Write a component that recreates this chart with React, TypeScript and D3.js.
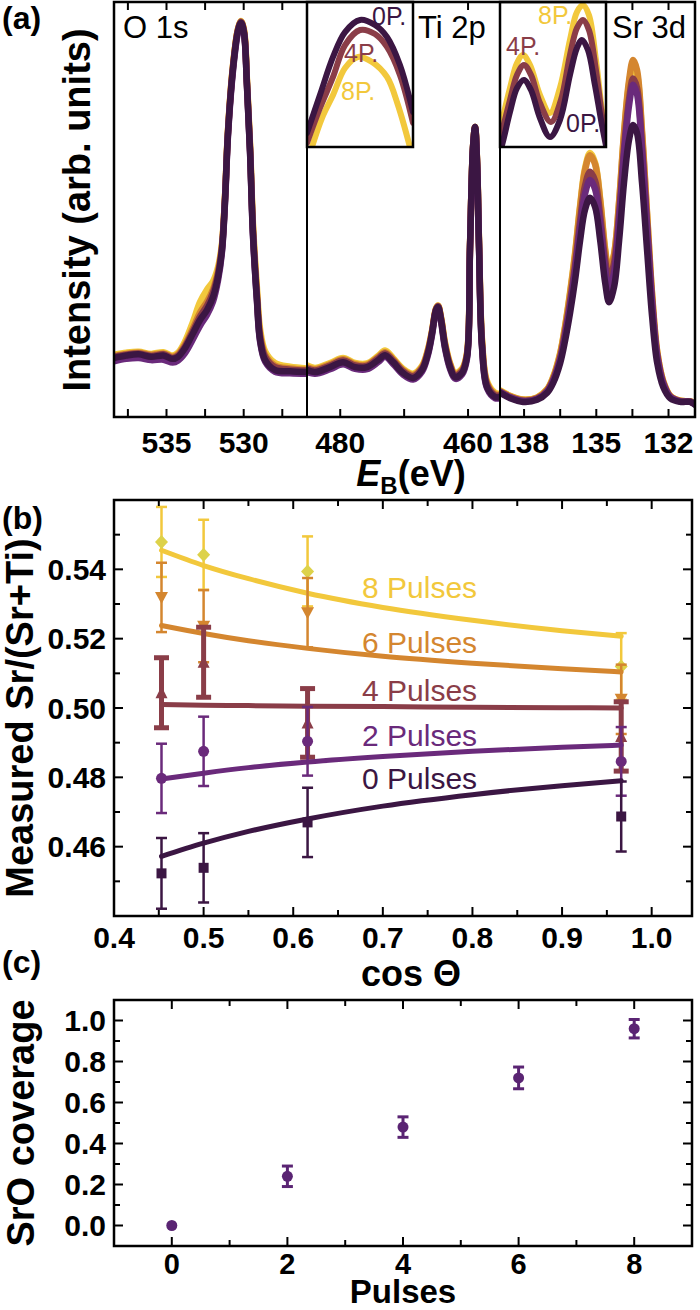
import React from 'react';
import * as d3 from 'd3';

const FONT = "'Liberation Sans', Arial, Helvetica, sans-serif";

// ---------- colours per series ----------
const seriesKeys = ['8', '6', '4', '2', '0'];
const seriesColor: Record<string, string> = { '8': '#f2c83c', '6': '#d4862f', '4': '#8a3d48', '2': '#6a2a7b', '0': '#3b1643' };

// ---------- panel (a) data: O 1s ----------
const o1sEnergy = [538.4, 537.6, 536.8, 536.0, 535.2, 534.6, 534.25, 533.8, 533.28, 532.83, 532.38, 531.99, 531.66, 531.41, 531.21, 531.02, 530.69, 530.37, 530.17, 529.98, 529.79, 529.59, 529.4, 529.14, 528.94, 528.61, 527.97, 527.0, 525.9];
const o1s0P = [14.0, 14.6, 14.9, 14.3, 14.6, 13.8, 14.3, 16.4, 20.0, 23.2, 25.6, 28.7, 33.6, 40, 52, 68, 84, 93, 95, 92.5, 80, 64, 44, 28, 18.4, 13.5, 11.1, 10.8, 10.6];
const o1s2P = [13.2, 13.8, 14.0, 13.5, 13.6, 12.9, 13.4, 15.2, 18.6, 21.8, 24.4, 27.6, 32.8, 39.5, 51.5, 67.5, 83.5, 92.6, 94.8, 92.3, 79.8, 63.8, 43.6, 27.6, 18.0, 13.1, 10.7, 10.3, 10.2];
const o1s4P = [14.3, 14.8, 15.1, 14.5, 14.9, 14.0, 14.6, 16.8, 20.6, 24.0, 26.6, 29.8, 34.4, 40.6, 52.6, 68.4, 84.4, 93.3, 95.2, 92.8, 80.5, 64.6, 44.8, 28.8, 19.2, 14.3, 11.8, 11.2, 11.0];
const o1s6P = [14.5, 15.0, 15.3, 14.8, 15.1, 14.3, 14.9, 17.3, 21.3, 25.0, 27.6, 30.6, 35.0, 41.0, 52.8, 68.6, 84.6, 93.4, 95.3, 93.0, 80.8, 65.0, 45.3, 29.4, 19.8, 14.8, 12.2, 11.5, 11.2];
const o1s8P = [14.8, 15.3, 15.5, 15.0, 15.4, 14.6, 15.3, 18.0, 22.8, 27.5, 30.5, 32.5, 36.0, 41.5, 53, 68.8, 84.8, 93.5, 95.4, 93.3, 81.3, 65.8, 46.5, 30.8, 21.0, 15.6, 12.8, 11.9, 11.5];

// ---------- panel (a) data: Ti 2p ----------
const ti2pEnergy = [485.2, 483.94, 481.59, 479.56, 477.68, 475.81, 474.08, 472.99, 471.74, 470.17, 468.61, 467.2, 466.26, 465.63, 465.01, 464.69, 464.23, 463.6, 462.82, 462.03, 460.94, 460.16, 459.69, 459.22, 458.9, 458.59, 458.28, 457.81, 457.03, 455.77, 455.0];
const ti2p0P = [11.1, 10.6, 11.8, 13.0, 11.8, 11.8, 13.5, 14.7, 13.0, 10.4, 9.2, 11.1, 15.2, 20.0, 25.6, 26.3, 23.2, 16.7, 11.8, 9.4, 10.4, 14.3, 40.8, 65.0, 69.8, 61.0, 40.8, 16.7, 7.0, 4.6, 4.6];
const ti2p2P = [10.6, 10.2, 11.3, 12.5, 11.4, 11.3, 13.0, 14.3, 12.6, 10.0, 8.8, 10.7, 14.8, 19.6, 25.2, 25.9, 22.8, 16.3, 11.4, 9.0, 10.0, 13.9, 40.4, 64.6, 69.5, 60.8, 40.6, 16.4, 6.7, 4.3, 4.3];
const ti2p4P = [11.5, 11.0, 12.2, 13.4, 12.2, 12.1, 13.9, 15.1, 13.4, 10.8, 9.6, 11.5, 15.6, 20.3, 25.8, 26.5, 23.5, 17.1, 12.2, 9.8, 10.8, 14.7, 41.0, 65.0, 69.8, 61.3, 41.3, 17.4, 7.6, 5.0, 5.0];
const ti2p6P = [11.8, 11.3, 12.5, 13.7, 12.5, 12.4, 14.2, 15.4, 13.7, 11.1, 9.9, 11.8, 15.9, 20.5, 25.9, 26.6, 23.7, 17.4, 12.5, 10.1, 11.1, 15.0, 41.1, 65.0, 69.8, 61.5, 41.6, 17.9, 8.0, 5.3, 5.2];
const ti2p8P = [12.2, 11.6, 12.8, 14.0, 12.8, 12.7, 14.5, 15.8, 14.0, 11.4, 10.2, 12.1, 16.2, 20.7, 26.0, 26.7, 23.9, 17.7, 12.8, 10.4, 11.4, 15.3, 41.2, 65.0, 69.8, 61.6, 41.9, 18.4, 8.4, 5.6, 5.4];

// ---------- panel (a) data: Sr 3d ----------
const sr3dEnergy = [139.0, 138.58, 138.04, 137.46, 137.04, 136.79, 136.5, 136.29, 136.09, 135.88, 135.67, 135.47, 135.26, 135.05, 134.84, 134.63, 134.47, 134.26, 134.05, 133.85, 133.64, 133.47, 133.31, 133.1, 132.89, 132.68, 132.47, 132.22, 131.93, 131.52, 131.1, 130.9];
const sr3d0P = [5.6, 4.3, 3.4, 3.9, 5.6, 8, 12.8, 18.4, 24.9, 32.9, 42.5, 49.8, 52.7, 50.5, 42.5, 32.1, 27.5, 31.2, 42.5, 56.3, 66.7, 70.3, 68.4, 56.3, 40, 23.9, 12.8, 7, 4.3, 3.4, 3.4, 2.7];
const sr3d2P = [5.8, 4.5, 3.6, 4.1, 5.9, 8.5, 13.6, 19.6, 26.6, 35.2, 45.6, 53.6, 57.0, 54.8, 46.5, 35.5, 30.5, 34.8, 47.5, 63.0, 75.0, 80.0, 77.8, 64.0, 45.5, 27.2, 14.5, 7.8, 4.6, 3.5, 3.4, 2.8];
const sr3d4P = [5.9, 4.6, 3.7, 4.2, 6.1, 8.8, 14.1, 20.4, 27.6, 36.5, 47.3, 55.6, 59.0, 56.8, 48.6, 37.6, 33.0, 37.0, 49.0, 64.5, 76.5, 81.5, 79.3, 65.3, 46.4, 27.8, 14.8, 8.0, 4.7, 3.6, 3.5, 2.9];
const sr3d6P = [6.0, 4.8, 3.9, 4.4, 6.4, 9.3, 15.0, 21.7, 29.5, 39.0, 50.5, 59.3, 63.0, 60.8, 52.0, 39.8, 34.5, 39.0, 52.0, 68.3, 81.0, 86.0, 83.6, 68.8, 48.9, 29.3, 15.6, 8.4, 4.9, 3.7, 3.5, 3.0];
const sr3d8P = [6.2, 4.9, 4.0, 4.5, 6.5, 9.5, 15.3, 22.0, 29.9, 39.5, 51.0, 59.8, 63.5, 61.2, 52.5, 40.3, 35.0, 39.3, 51.7, 67.8, 80.2, 85.0, 82.6, 68.0, 48.4, 29.0, 15.5, 8.4, 4.9, 3.7, 3.5, 3.0];

// ---------- panel (a) insets (normalised intensity) ----------
const tiInset0P: [number, number][] = [[459.6, 0.097], [459.49, 0.359], [459.379, 0.621], [459.277, 0.793], [459.15, 0.876], [459.023, 0.841], [458.921, 0.759], [458.811, 0.566], [458.7, 0.241]];
const tiInset4P: [number, number][] = [[459.6, 0.028], [459.49, 0.269], [459.379, 0.483], [459.277, 0.703], [459.15, 0.807], [459.023, 0.779], [458.921, 0.69], [458.811, 0.497], [458.7, 0.166]];
const tiInset8P: [number, number][] = [[459.558, 0.0], [459.473, 0.2], [459.379, 0.359], [459.277, 0.545], [459.167, 0.621], [459.048, 0.586], [458.921, 0.483], [458.828, 0.29], [458.726, 0.0]];
const srInset0P: [number, number][] = [[135.6, -0.02], [135.551, 0.014], [135.355, 0.241], [135.183, 0.407], [135.012, 0.462], [134.84, 0.393], [134.62, 0.2], [134.375, 0.069], [134.13, 0.186], [133.884, 0.497], [133.713, 0.683], [133.59, 0.738], [133.443, 0.669], [133.272, 0.428], [133.1, 0.152], [132.953, -0.055]];
const srInset4P: [number, number][] = [[135.6, 0.048], [135.355, 0.324], [135.183, 0.497], [135.012, 0.566], [134.84, 0.497], [134.62, 0.303], [134.35, 0.172], [134.105, 0.324], [133.884, 0.634], [133.713, 0.821], [133.566, 0.876], [133.419, 0.807], [133.247, 0.531], [133.1, 0.221], [132.953, -0.021]];
const srInset8P: [number, number][] = [[135.6, 0.117], [135.355, 0.407], [135.183, 0.579], [135.036, 0.634], [134.865, 0.566], [134.62, 0.359], [134.375, 0.234], [134.13, 0.407], [133.884, 0.738], [133.713, 0.931], [133.566, 0.979], [133.419, 0.91], [133.247, 0.6], [133.1, 0.255], [132.953, -0.007]];

// ---------- panel (b) data ----------
const cosTheta = [0.453, 0.5, 0.616, 0.966];
const ratio0P = [0.4523, 0.4539, 0.4670, 0.4687];
const ratio2P = [0.4797, 0.4875, 0.4904, 0.4846];
const ratio4P = [0.5044, 0.5132, 0.4957, 0.4918];
const ratio6P = [0.5319, 0.5236, 0.5275, 0.5025];
const ratio8P = [0.5479, 0.5442, 0.5394, 0.5120];
const err0P = [0.0102, 0.0100, 0.0100, 0.0101];
const err2P = [0.0100, 0.0100, 0.0099, 0.0099];
const err4P = [0.0101, 0.0101, 0.0099, 0.0100];
const err6P = [0.0100, 0.0104, 0.0100, 0.0100];
const err8P = [0.0101, 0.0101, 0.0101, 0.0096];
const fitCos = [0.453, 0.5, 0.55, 0.616, 0.7, 0.8, 0.9, 0.966];
const fit0P = [0.4572, 0.4610, 0.4644, 0.4680, 0.4717, 0.4750, 0.4776, 0.4790];
const fit2P = [0.4795, 0.4812, 0.4828, 0.4844, 0.4860, 0.4875, 0.4887, 0.4893];
const fit4P = [0.5010, 0.5008, 0.5007, 0.5005, 0.5004, 0.5002, 0.5001, 0.5000];
const fit6P = [0.5238, 0.5215, 0.5194, 0.5172, 0.5149, 0.5129, 0.5113, 0.5104];
const fit8P = [0.5455, 0.5411, 0.5373, 0.5331, 0.5290, 0.5253, 0.5223, 0.5207];
const pulseLabels = ['8 Pulses', '6 Pulses', '4 Pulses', '2 Pulses', '0 Pulses'];

// ---------- panel (c) data ----------
const pulses = [0, 2, 4, 6, 8];
const coverage = [0.0, 0.24, 0.48, 0.72, 0.96];
const coverageErr = [0.0, 0.05, 0.05, 0.053, 0.045];

// ---------- tick values ----------
const bXMajor = [0.4, 0.5, 0.6, 0.7, 0.8, 0.9, 1.0];
const bXMinor = [0.45, 0.55, 0.65, 0.75, 0.85, 0.95];
const bYMajor = [0.46, 0.48, 0.5, 0.52, 0.54];
const bYMinor = [0.45, 0.47, 0.49, 0.51, 0.53, 0.55];
const cXMajor = [0, 2, 4, 6, 8];
const cXMinor = [1, 3, 5, 7];
const cYMajor = [0.0, 0.2, 0.4, 0.6, 0.8, 1.0];
const cYMinor = [0.1, 0.3, 0.5, 0.7, 0.9];

const zip = (xs: number[], ys: number[]) => xs.map((x, i) => [x, ys[i]] as [number, number]);
const smooth = (x: any, y: any) => d3.line<[number, number]>().x(d => x(d[0])).y(d => y(d[1])).curve(d3.curveCatmullRom.alpha(0.5));

// ================= PANEL A =================
function PanelA() {
  const top = 2, bottom = 417;
  const yA = d3.scaleLinear().domain([0, 100]).range([416, 2]);
  const segs = [
    { id: 'o', x0: 114, x1: 307, domain: [538.4, 525.9], energy: o1sEnergy, data: { '0': o1s0P, '2': o1s2P, '4': o1s4P, '6': o1s6P, '8': o1s8P } as Record<string, number[]>, major: [535, 530], minor: [537.5, 532.5, 527.5] },
    { id: 't', x0: 307, x1: 500, domain: [485.2, 455.0], energy: ti2pEnergy, data: { '0': ti2p0P, '2': ti2p2P, '4': ti2p4P, '6': ti2p6P, '8': ti2p8P } as Record<string, number[]>, major: [480, 460], minor: [470] },
    { id: 's', x0: 500, x1: 695, domain: [139.0, 130.9], energy: sr3dEnergy, data: { '0': sr3d0P, '2': sr3d2P, '4': sr3d4P, '6': sr3d6P, '8': sr3d8P } as Record<string, number[]>, major: [138, 135, 132], minor: [136.5, 133.5] },
  ];
  const insets = [
    { id: 'ti', x0: 307, x1: 413, domain: [459.6, 458.7], data: { '8': tiInset8P, '4': tiInset4P, '0': tiInset0P } as Record<string, [number, number][]>,
      labels: [{ k: '0', t: '0P.', x: 372, y: 25 }, { k: '4', t: '4P.', x: 344, y: 62 }, { k: '8', t: '8P.', x: 341, y: 100 }] },
    { id: 'sr', x0: 500, x1: 606, domain: [135.6, 133.0], data: { '8': srInset8P, '4': srInset4P, '0': srInset0P } as Record<string, [number, number][]>,
      labels: [{ k: '8', t: '8P.', x: 538, y: 24 }, { k: '4', t: '4P.', x: 506, y: 55 }, { k: '0', t: '0P.', x: 566, y: 132 }] },
  ];
  const insetBottom = 147;
  return (
    <g>
      <defs>
        {segs.map(s => (
          <clipPath key={s.id} id={'clipA' + s.id}><rect x={s.x0} y={top} width={s.x1 - s.x0} height={bottom - top} /></clipPath>
        ))}
        {insets.map(s => (
          <clipPath key={s.id} id={'clipI' + s.id}><rect x={s.x0} y={top} width={s.x1 - s.x0} height={insetBottom - top} /></clipPath>
        ))}
      </defs>
      {segs.map(s => {
        const x = d3.scaleLinear().domain(s.domain).range([s.x0, s.x1]);
        const line = smooth(x, yA);
        return (
          <g key={s.id}>
            <g clipPath={`url(#clipA${s.id})`}>
              {seriesKeys.map(k => (
                <path key={k} d={line(zip(s.energy, s.data[k])) || ''} fill="none" stroke={seriesColor[k]} strokeWidth={6.5} strokeLinejoin="round" strokeLinecap="round" />
              ))}
            </g>
            {s.major.concat(s.minor).map(v => (
              <g key={v}>
                <line x1={x(v)} x2={x(v)} y1={bottom} y2={bottom - 8} stroke="#000" strokeWidth={2} />
                <line x1={x(v)} x2={x(v)} y1={top} y2={top + 8} stroke="#000" strokeWidth={2} />
              </g>
            ))}
            {s.major.map(v => (
              <text key={'l' + v} x={x(v)} y={453} textAnchor="middle" fontFamily={FONT} fontWeight="bold" fontSize={30}>{v}</text>
            ))}
          </g>
        );
      })}
      {insets.map(s => {
        const x = d3.scaleLinear().domain(s.domain).range([s.x0, s.x1]);
        const y = d3.scaleLinear().domain([0, 1]).range([insetBottom, top]);
        const line = smooth(x, y);
        return (
          <g key={s.id}>
            <rect x={s.x0} y={top} width={s.x1 - s.x0} height={insetBottom - top} fill="#fff" />
            <g clipPath={`url(#clipI${s.id})`}>
              {['8', '4', '0'].map(k => (
                <path key={k} d={line(s.data[k]) || ''} fill="none" stroke={seriesColor[k]} strokeWidth={6} strokeLinecap="round" />
              ))}
            </g>
            <rect x={s.x0} y={top} width={s.x1 - s.x0} height={insetBottom - top} fill="none" stroke="#000" strokeWidth={2.5} />
            {s.labels.map(l => (
              <text key={l.t} x={l.x} y={l.y} fontFamily={FONT} fontSize={25} fill={seriesColor[l.k]}>{l.t}</text>
            ))}
          </g>
        );
      })}
      <line x1={307} x2={307} y1={top} y2={bottom} stroke="#000" strokeWidth={2} />
      <line x1={500} x2={500} y1={top} y2={bottom} stroke="#000" strokeWidth={2} />
      <rect x={114} y={top} width={695 - 114} height={bottom - top} fill="none" stroke="#000" strokeWidth={2.5} />
      <text x={123} y={38} fontFamily={FONT} fontSize={31}>O 1s</text>
      <text x={418} y={38} fontFamily={FONT} fontSize={31}>Ti 2p</text>
      <text x={612} y={38} fontFamily={FONT} fontSize={31}>Sr 3d</text>
      <text x={411} y={486} textAnchor="middle" fontFamily={FONT} fontWeight="bold" fontSize={36}>
        <tspan fontStyle="italic">E</tspan><tspan fontSize={24} dy={8}>B</tspan><tspan dy={-8}>(eV)</tspan>
      </text>
      <text transform="translate(90,210) rotate(-90)" textAnchor="middle" fontFamily={FONT} fontWeight="bold" fontSize={38}>Intensity (arb. units)</text>
      <text x={2} y={29} fontFamily={FONT} fontWeight="bold" fontSize={32}>(a)</text>
    </g>
  );
}

// ================= PANEL B =================
function marker(k: string, cx: number, cy: number) {
  const c = k === '8' ? '#ddd24a' : seriesColor[k];
  if (k === '8') return <path d={`M${cx},${cy - 7}L${cx + 6.5},${cy}L${cx},${cy + 7}L${cx - 6.5},${cy}Z`} fill={c} />;
  if (k === '6') return <path d={`M${cx - 6.5},${cy - 5.5}L${cx + 6.5},${cy - 5.5}L${cx},${cy + 6.5}Z`} fill={c} />;
  if (k === '4') return <path d={`M${cx - 6},${cy + 5.5}L${cx + 6},${cy + 5.5}L${cx},${cy - 6.5}Z`} fill={c} />;
  if (k === '2') return <circle cx={cx} cy={cy} r={5.5} fill={c} />;
  return <rect x={cx - 5} y={cy - 5} width={10} height={10} fill={c} />;
}

function PanelB() {
  const left = 114, right = 692, top = 500, bottom = 916;
  const x = d3.scaleLinear().domain([0.4, 1.045]).range([left, right]);
  const y = d3.scaleLinear().domain([0.44, 0.56]).range([bottom, top]);
  const vals: Record<string, number[]> = { '0': ratio0P, '2': ratio2P, '4': ratio4P, '6': ratio6P, '8': ratio8P };
  const errs: Record<string, number[]> = { '0': err0P, '2': err2P, '4': err4P, '6': err6P, '8': err8P };
  const fits: Record<string, number[]> = { '0': fit0P, '2': fit2P, '4': fit4P, '6': fit6P, '8': fit8P };
  const line = d3.line<[number, number]>().x(d => x(d[0])).y(d => y(d[1])).curve(d3.curveMonotoneX);
  const labelY = [598, 653, 701, 746, 789];
  return (
    <g>
      {seriesKeys.map(k => {
        const thick = k === '4';
        const sw = thick ? 5 : 2.5;
        const cap = thick ? 7.5 : 5.5;
        return (
          <g key={k}>
            <path d={line(zip(fitCos, fits[k])) || ''} fill="none" stroke={seriesColor[k]} strokeWidth={5} strokeLinecap="round" />
            {cosTheta.map((c, i) => {
              const cx = x(c), y1 = y(vals[k][i] + errs[k][i]), y2 = y(vals[k][i] - errs[k][i]);
              return (
                <g key={i}>
                  <line x1={cx} x2={cx} y1={y1} y2={y2} stroke={seriesColor[k]} strokeWidth={sw} />
                  <line x1={cx - cap} x2={cx + cap} y1={y1} y2={y1} stroke={seriesColor[k]} strokeWidth={sw} />
                  <line x1={cx - cap} x2={cx + cap} y1={y2} y2={y2} stroke={seriesColor[k]} strokeWidth={sw} />
                  {marker(k, cx, y(vals[k][i]))}
                </g>
              );
            })}
          </g>
        );
      })}
      {seriesKeys.map((k, i) => (
        <text key={'t' + k} x={362} y={labelY[i]} fontFamily={FONT} fontSize={30} fill={seriesColor[k]}>{pulseLabels[i]}</text>
      ))}
      {bXMajor.concat(bXMinor).map(v => {
        const len = bXMajor.includes(v) ? 9 : 6;
        return (
          <g key={'x' + v}>
            <line x1={x(v)} x2={x(v)} y1={bottom} y2={bottom - len} stroke="#000" strokeWidth={2} />
            <line x1={x(v)} x2={x(v)} y1={top} y2={top + len} stroke="#000" strokeWidth={2} />
          </g>
        );
      })}
      {bYMajor.concat(bYMinor).map(v => {
        const len = bYMajor.includes(v) ? 9 : 6;
        return (
          <g key={'y' + v}>
            <line x1={left} x2={left + len} y1={y(v)} y2={y(v)} stroke="#000" strokeWidth={2} />
            <line x1={right} x2={right - len} y1={y(v)} y2={y(v)} stroke="#000" strokeWidth={2} />
          </g>
        );
      })}
      {bXMajor.map(v => (
        <text key={'xl' + v} x={x(v)} y={948} textAnchor="middle" fontFamily={FONT} fontWeight="bold" fontSize={30}>{d3.format('.1f')(v)}</text>
      ))}
      {bYMajor.map(v => (
        <text key={'yl' + v} x={106} y={y(v)} dy="0.36em" textAnchor="end" fontFamily={FONT} fontWeight="bold" fontSize={30}>{d3.format('.2f')(v)}</text>
      ))}
      <rect x={left} y={top} width={right - left} height={bottom - top} fill="none" stroke="#000" strokeWidth={2.5} />
      <text x={411} y={986} textAnchor="middle" fontFamily={FONT} fontWeight="bold" fontSize={36}>cos Θ</text>
      <text transform="translate(33,718) rotate(-90)" textAnchor="middle" fontFamily={FONT} fontWeight="bold" fontSize={38}>Measured Sr/(Sr+Ti)</text>
      <text x={2} y={529} fontFamily={FONT} fontWeight="bold" fontSize={32}>(b)</text>
    </g>
  );
}

// ================= PANEL C =================
function PanelC() {
  const left = 114, right = 692, top = 1000, bottom = 1246;
  const x = d3.scaleLinear().domain([-1, 9]).range([left, right]);
  const y = d3.scaleLinear().domain([-0.1, 1.1]).range([bottom, top]);
  const col = '#5a2473';
  return (
    <g>
      {pulses.map((p, i) => {
        const cx = x(p), y1 = y(coverage[i] + coverageErr[i]), y2 = y(coverage[i] - coverageErr[i]);
        return (
          <g key={p}>
            {coverageErr[i] > 0 && (
              <g>
                <line x1={cx} x2={cx} y1={y1} y2={y2} stroke={col} strokeWidth={3} />
                <line x1={cx - 5.5} x2={cx + 5.5} y1={y1} y2={y1} stroke={col} strokeWidth={3} />
                <line x1={cx - 5.5} x2={cx + 5.5} y1={y2} y2={y2} stroke={col} strokeWidth={3} />
              </g>
            )}
            <circle cx={cx} cy={y(coverage[i])} r={5.5} fill={col} />
          </g>
        );
      })}
      {cXMajor.concat(cXMinor).map(v => {
        const len = cXMajor.includes(v) ? 9 : 6;
        return (
          <g key={'x' + v}>
            <line x1={x(v)} x2={x(v)} y1={bottom} y2={bottom - len} stroke="#000" strokeWidth={2} />
            <line x1={x(v)} x2={x(v)} y1={top} y2={top + len} stroke="#000" strokeWidth={2} />
          </g>
        );
      })}
      {cYMajor.concat(cYMinor).map(v => {
        const len = cYMajor.includes(v) ? 9 : 6;
        return (
          <g key={'y' + v}>
            <line x1={left} x2={left + len} y1={y(v)} y2={y(v)} stroke="#000" strokeWidth={2} />
            <line x1={right} x2={right - len} y1={y(v)} y2={y(v)} stroke="#000" strokeWidth={2} />
          </g>
        );
      })}
      {cXMajor.map(v => (
        <text key={'xl' + v} x={x(v)} y={1274} textAnchor="middle" fontFamily={FONT} fontWeight="bold" fontSize={29}>{v}</text>
      ))}
      {cYMajor.map(v => (
        <text key={'yl' + v} x={106} y={y(v)} dy="0.36em" textAnchor="end" fontFamily={FONT} fontWeight="bold" fontSize={30}>{d3.format('.1f')(v)}</text>
      ))}
      <rect x={left} y={top} width={right - left} height={bottom - top} fill="none" stroke="#000" strokeWidth={2.5} />
      <text x={403} y={1303} textAnchor="middle" fontFamily={FONT} fontWeight="bold" fontSize={33}>Pulses</text>
      <text transform="translate(34,1123) rotate(-90)" textAnchor="middle" fontFamily={FONT} fontWeight="bold" fontSize={38}>SrO coverage</text>
      <text x={2} y={973} fontFamily={FONT} fontWeight="bold" fontSize={32}>(c)</text>
    </g>
  );
}

export default function App() {
  return (
    <div style={{ position: 'absolute', left: 0, top: 0, width: 700, height: 1310, background: '#fff' }}>
      <svg width={700} height={1310} viewBox="0 0 700 1310" style={{ display: 'block' }}>
        <rect width={700} height={1310} fill="#fff" />
        <PanelA />
        <PanelB />
        <PanelC />
      </svg>
    </div>
  );
}
